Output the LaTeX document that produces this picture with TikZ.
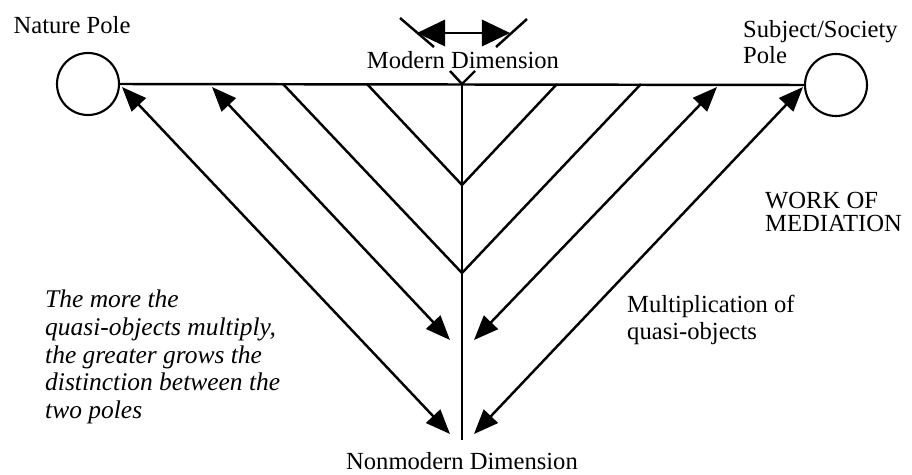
\documentclass[tikz,border=0pt]{standalone}
\usepackage{fontspec}
\setmainfont{Liberation Serif}
\usetikzlibrary{arrows.meta}

\begin{document}
\begin{tikzpicture}[x=0.2mm, y=-0.2mm, line width=1.4pt, >={Triangle[length=14pt,width=11pt]},
  pole/.style={circle, draw, line width=1.2pt, minimum size=12.4mm, inner sep=0pt},
  lbl/.style={inner sep=0pt, align=left, font=\fontsize{14}{14.5}\selectfont},
  note/.style={inner sep=0pt, align=left, font=\fontsize{14.5}{15.8}\selectfont\itshape}]
  \useasboundingbox (0,0) rectangle (912,474);

  \node[pole] (nature) at (88,84) {};
  \node[pole] (society) at (836,85) {};
  \draw (nature.east) -- (society.west);

  \coordinate (axistop) at (462,84);
  \coordinate (axisbot) at (462,440);
  \draw (axistop) -- (axisbot);
  \draw (450,71) -- (axistop) -- (475,71);

  \coordinate (v1) at (462,185);
  \coordinate (v2) at (462,273);
  \draw (367,84) -- (v1) -- (557,84);
  \draw (283,84) -- (v2) -- (641,84);

  \coordinate (a1l) at (212,87);
  \coordinate (a1r) at (717,87);
  \coordinate (a2l) at (122,87);
  \coordinate (a2r) at (803,87);
  \coordinate (b1l) at (450,340);
  \coordinate (b1r) at (474,340);
  \coordinate (b2l) at (450,434);
  \coordinate (b2r) at (474,434);
  \draw[<->] (a1l) -- (b1l);
  \draw[<->] (a1r) -- (b1r);
  \draw[<->] (a2l) -- (b2l);
  \draw[<->] (a2r) -- (b2r);

  \coordinate (ml) at (417,33);
  \coordinate (mr) at (510,33);
  \draw[<->, >={Triangle[length=16pt,width=15pt]}] (ml) -- (mr);
  \draw (400,18) -- (434,47);
  \draw (527,19) -- (496,47);

  \node[lbl] (naturelbl) at (72,25) {Nature Pole};
  \node[lbl, anchor=west] (societylbl) at (742,42) {Subject/Society\\Pole};
  \node[lbl] (modern) at (463,60) {Modern Dimension};
  \node[lbl] (nonmodern) at (462,461) {Nonmodern Dimension};
  \node[lbl, anchor=west, font=\fontsize{14}{13}\selectfont] (work) at (764,212) {WORK OF\\MEDIATION};
  \node[lbl, anchor=west, font=\fontsize{14}{15.5}\selectfont] (multi) at (626,320) {Multiplication of\\quasi-objects};
  \node[note, anchor=west] (distinction) at (44,357) {The more the\\quasi-objects multiply,\\the greater grows the\\distinction between the\\two poles};
\end{tikzpicture}
\end{document}
